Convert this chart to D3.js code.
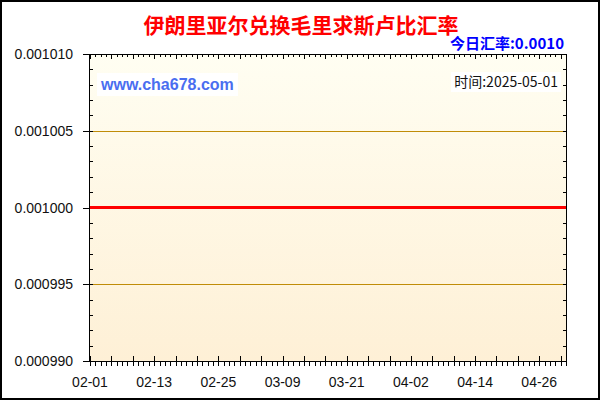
<!DOCTYPE html>
<html>
<head>
<meta charset="utf-8">
<script src="https://cdn.jsdelivr.net/npm/d3@7"></script>
<style>
  body { margin: 0; background: #fff; }
  svg { display: block; }
</style>
</head>
<body>
<div id="chart"></div>
<script>
// rate readings (all at 0.0010)
let dates = ["2025-02-01", "2025-02-05", "2025-02-09", "2025-02-13", "2025-02-17",
             "2025-02-21", "2025-02-25", "2025-03-01", "2025-03-05", "2025-03-09",
             "2025-03-13", "2025-03-17", "2025-03-21", "2025-03-25", "2025-03-29",
             "2025-04-02", "2025-04-06", "2025-04-10", "2025-04-14", "2025-04-18",
             "2025-04-22", "2025-04-26", "2025-04-30", "2025-05-01"];
let rates = [0.0010, 0.0010, 0.0010, 0.0010, 0.0010, 0.0010, 0.0010, 0.0010,
             0.0010, 0.0010, 0.0010, 0.0010, 0.0010, 0.0010, 0.0010, 0.0010,
             0.0010, 0.0010, 0.0010, 0.0010, 0.0010, 0.0010, 0.0010, 0.0010];
let yTicks = [0.000990, 0.000995, 0.001000, 0.001005, 0.001010];
let xLabels = ["02-01", "02-13", "02-25", "03-09", "03-21", "04-02", "04-14", "04-26"];

let titleText = "伊朗里亚尔兑换毛里求斯卢比汇率";
let todayText = "今日汇率:0.0010";
let siteText = "www.cha678.com";
let timeText = "时间:2025-05-01";

let width = 600;
let height = 400;
let plot = { left: 89, right: 567, top: 54, bottom: 361 };

let parse = d3.timeParse("%Y-%m-%d");
let items = dates.map((d, i) => ({ date: parse(d), rate: rates[i] }));

let svg = d3.select("#chart")
            .append("svg")
            .attr("width", width)
            .attr("height", height);

let defs = svg.append("defs");
let grad = defs.append("linearGradient")
               .attr("id", "bg")
               .attr("x1", 0).attr("y1", 0)
               .attr("x2", 0).attr("y2", 1);
grad.append("stop").attr("offset", "0%").attr("stop-color", "#fffef2");
grad.append("stop").attr("offset", "100%").attr("stop-color", "#fef0d6");

// outer frame
svg.append("rect")
   .attr("x", 1).attr("y", 1)
   .attr("width", width - 2).attr("height", height - 2)
   .attr("fill", "#fff")
   .attr("stroke", "#000")
   .attr("stroke-width", 2);

let xScale = d3.scaleTime()
               .domain([parse("2025-02-01"), parse("2025-05-01")])
               .range([plot.left + 1, plot.right - 1]);

let yScale = d3.scaleLinear()
               .domain([0.000990, 0.001010])
               .range([plot.bottom, plot.top]);

let snap = v => Math.round(v) + 0.5;

// plot background
svg.append("rect")
   .attr("x", plot.left).attr("y", plot.top)
   .attr("width", plot.right - plot.left)
   .attr("height", plot.bottom - plot.top)
   .attr("fill", "url(#bg)");

// grid lines
svg.append("g")
   .selectAll("line")
   .data([0.000995, 0.001005])
   .enter()
   .append("line")
   .attr("x1", plot.left).attr("x2", plot.right)
   .attr("y1", d => snap(yScale(d))).attr("y2", d => snap(yScale(d)))
   .attr("stroke", "#c08c08")
   .attr("stroke-width", 1);

// minor y ticks
let yMinor = d3.range(0, 21).map(i => 0.000990 + i * 0.000001);
let days = d3.timeDay.range(parse("2025-02-01"), d3.timeDay.offset(parse("2025-05-01"), 1));

let tickG = svg.append("g").attr("stroke", "#000").attr("stroke-width", 1);

tickG.selectAll(".yl")
     .data(yMinor)
     .enter()
     .append("line")
     .attr("x1", plot.left).attr("x2", plot.left + 4)
     .attr("y1", d => snap(yScale(d)))
     .attr("y2", d => snap(yScale(d)));

tickG.selectAll(".yr")
     .data(yMinor)
     .enter()
     .append("line")
     .attr("x1", plot.right - 4).attr("x2", plot.right)
     .attr("y1", d => snap(yScale(d)))
     .attr("y2", d => snap(yScale(d)));

// major y ticks (outside)
tickG.selectAll(".ym")
     .data(yTicks)
     .enter()
     .append("line")
     .attr("x1", plot.left - 6).attr("x2", plot.left)
     .attr("y1", d => snap(yScale(d)))
     .attr("y2", d => snap(yScale(d)));

// x ticks: daily minor below, every 4 days major crossing axis
tickG.selectAll(".xb")
     .data(days)
     .enter()
     .append("line")
     .attr("x1", d => snap(xScale(d)))
     .attr("x2", d => snap(xScale(d)))
     .attr("y1", (d, i) => i % 4 === 0 ? plot.bottom - 5 : plot.bottom)
     .attr("y2", plot.bottom + 5);

tickG.selectAll(".xt")
     .data(days)
     .enter()
     .append("line")
     .attr("x1", d => snap(xScale(d)))
     .attr("x2", d => snap(xScale(d)))
     .attr("y1", plot.top)
     .attr("y2", (d, i) => i % 4 === 0 ? plot.top + 5 : plot.top + 3);

// plot frame
svg.append("rect")
   .attr("x", plot.left + 0.5).attr("y", plot.top + 0.5)
   .attr("width", plot.right - plot.left - 1)
   .attr("height", plot.bottom - plot.top)
   .attr("fill", "none")
   .attr("stroke", "#000")
   .attr("stroke-width", 1);

// y labels
svg.append("g")
   .selectAll("text")
   .data(yTicks)
   .enter()
   .append("text")
   .attr("x", 73)
   .attr("y", d => yScale(d) + 5)
   .attr("text-anchor", "end")
   .attr("font-family", "Liberation Sans, Arial, sans-serif")
   .attr("font-size", 14)
   .attr("fill", "#111")
   .text(d => d.toFixed(6));

// x labels
svg.append("g")
   .selectAll("text")
   .data(xLabels)
   .enter()
   .append("text")
   .attr("x", d => xScale(parse("2025-" + d)))
   .attr("y", 387)
   .attr("text-anchor", "middle")
   .attr("font-family", "Liberation Sans, Arial, sans-serif")
   .attr("font-size", 14)
   .attr("fill", "#111")
   .text(d => d);

// rate line
let line = d3.line()
             .x(d => xScale(d.date))
             .y(d => yScale(d.rate));

svg.append("path")
   .datum(items)
   .attr("d", line)
   .attr("fill", "none")
   .attr("stroke", "#ff0000")
   .attr("stroke-width", 3);

// watermark boxes
svg.append("rect")
   .attr("x", 97).attr("y", 73).attr("width", 141).attr("height", 23)
   .attr("fill", "#fff");
svg.append("text")
   .attr("x", 101).attr("y", 90)
   .attr("font-family", "Liberation Sans, Arial, sans-serif")
   .attr("font-size", 16)
   .attr("font-weight", "bold")
   .attr("fill", "#4a6ef0")
   .text(siteText);

svg.append("rect")
   .attr("x", 451).attr("y", 72).attr("width", 110).attr("height", 20)
   .attr("fill", "#fff");
svg.append("text")
   .attr("x", 558).attr("y", 87)
   .attr("text-anchor", "end")
   .attr("font-family", "Noto Sans CJK SC, DejaVu Sans, sans-serif")
   .attr("font-size", 14)
   .attr("fill", "#111")
   .text(timeText);

// title
svg.append("text")
   .attr("x", 301).attr("y", 33)
   .attr("text-anchor", "middle")
   .attr("font-family", "Noto Sans CJK SC, sans-serif")
   .attr("font-size", 21)
   .attr("font-weight", "bold")
   .attr("fill", "#ff0000")
   .text(titleText);

svg.append("text")
   .attr("x", 564).attr("y", 49)
   .attr("text-anchor", "end")
   .attr("font-family", "Noto Sans CJK SC, sans-serif")
   .attr("font-size", 15)
   .attr("font-weight", "bold")
   .attr("fill", "#0000ff")
   .text(todayText);
</script>
</body>
</html>
